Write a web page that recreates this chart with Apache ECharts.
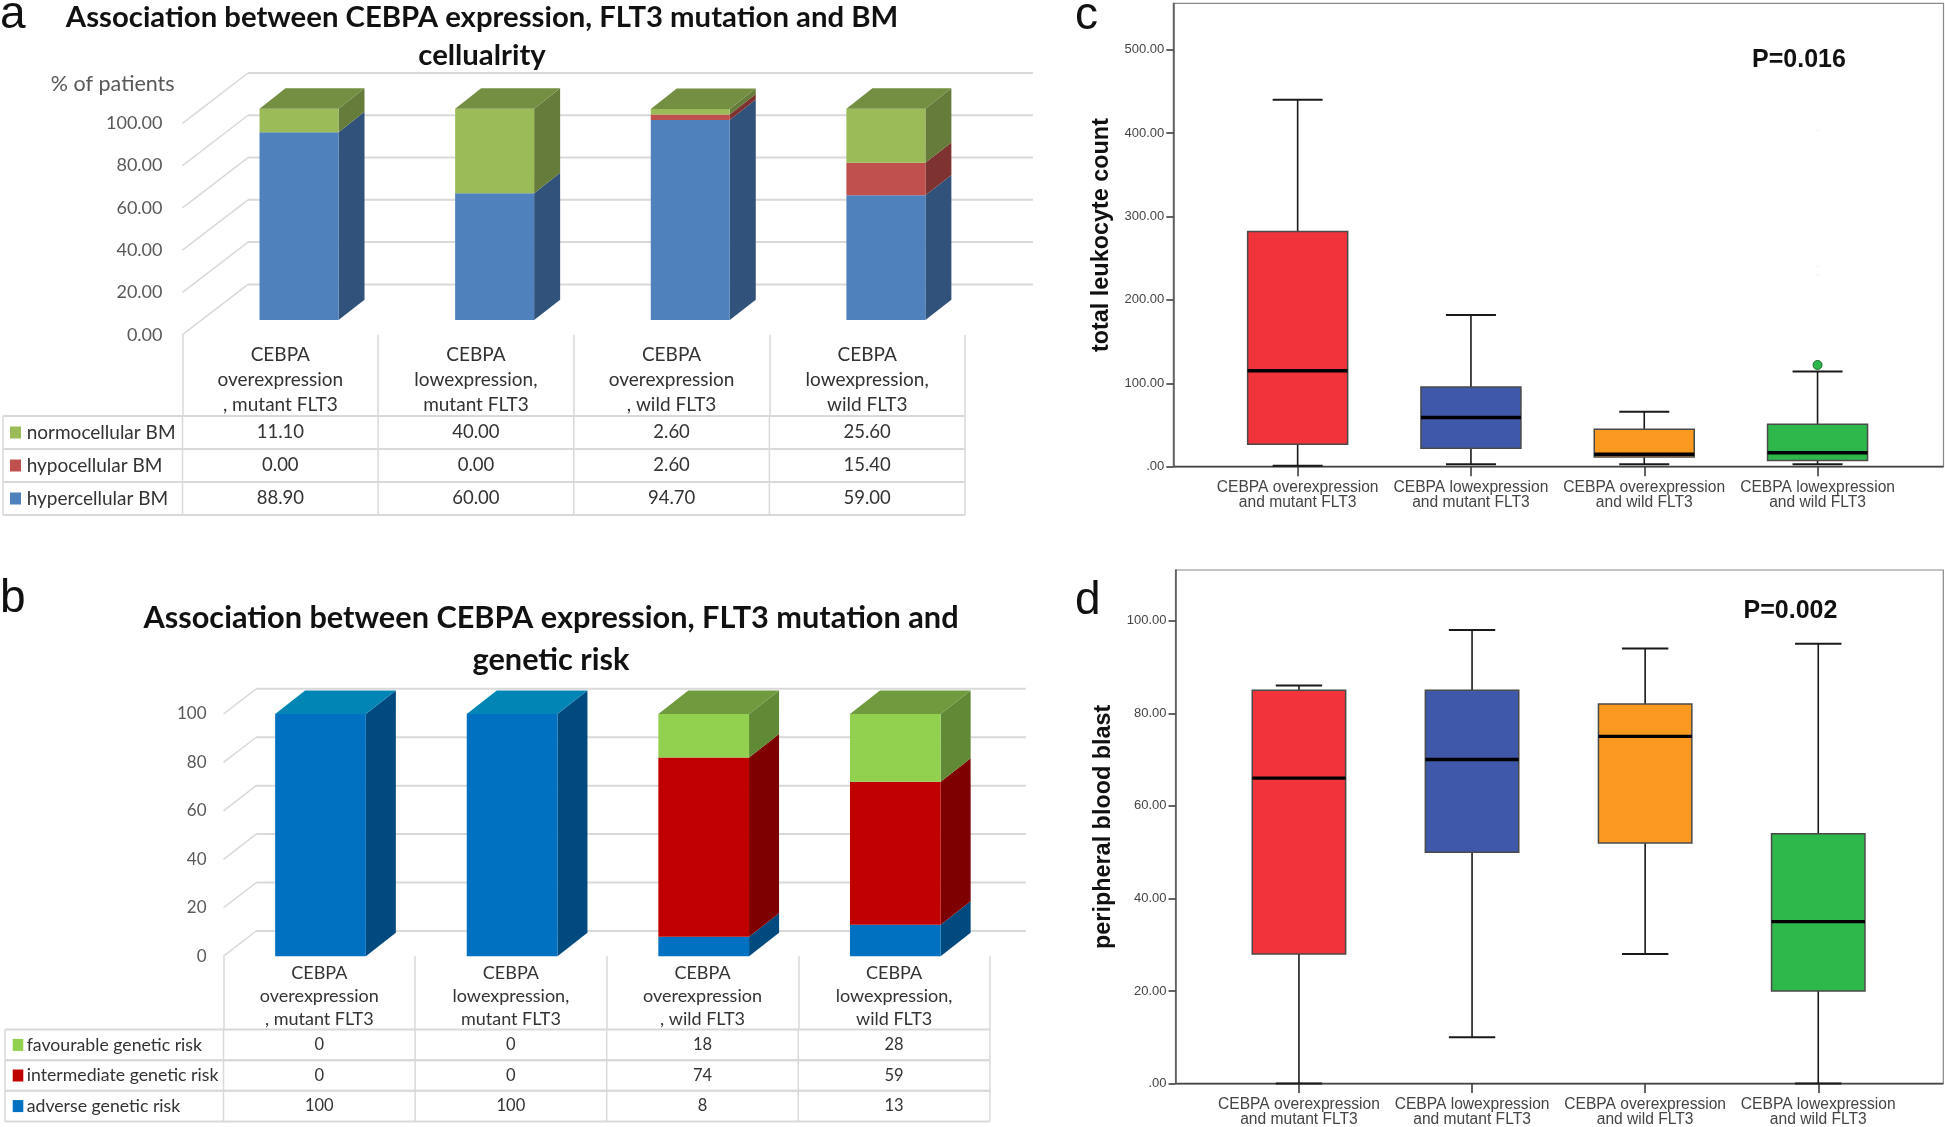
<!DOCTYPE html>
<html><head><meta charset="utf-8">
<style>html,body{margin:0;padding:0;background:#fff}#c{width:1945px;height:1127px}</style>
<script src="https://cdn.jsdelivr.net/npm/echarts@6/dist/echarts.min.js"></script>
</head><body><div id="c"></div>
<script>
// ---------- data ----------
const catsStacked = ['CEBPA\noverexpression\n, mutant FLT3','CEBPA\nlowexpression,\nmutant FLT3','CEBPA\noverexpression\n, wild FLT3','CEBPA\nlowexpression,\nwild FLT3'];
const hypercellularBM = [88.9,60,94.7,59];
const hypocellularBM  = [0,0,2.6,15.4];
const normocellularBM = [11.1,40,2.6,25.6];
const ticksA = [0,20,40,60,80,100];
const adverseRisk = [100,100,8,13];
const intermediateRisk = [0,0,74,59];
const favourableRisk = [0,0,18,28];
const ticksB = [0,20,40,60,80,100];
const catsBox = ['CEBPA overexpression\nand mutant FLT3','CEBPA lowexpression\nand mutant FLT3','CEBPA overexpression\nand wild FLT3','CEBPA lowexpression\nand wild FLT3'];
// [category, min, q1, median, q3, max]
const leukocyteBoxes = [[0,1,27,115,282,440],[1,3,22,59,95.5,182],[2,3,11.5,15,45,66],[3,3,7.5,16.7,51,114]];
const leukocyteOutlier = [[3,122]];
const leukocyteFaint = [[3,403],[3,240],[3,230]];
const blastBoxes = [[0,0,28,66,85,86],[1,10,50,70,85,98],[2,28,52,75,82,94],[3,0,20,35,54,95]];
const ticksC = [0,100,200,300,400,500];
const ticksD = [0,20,40,60,80,100];
const boxColors = ['#F1333B','#3F58AA','#F9991F','#2EB84B'];

const CAL = 'Lato, Carlito, sans-serif';
const ARI = '"Liberation Sans", Arial, sans-serif';
const GRID = '#D9D9D9';

// ---------- helpers ----------
function wallSeries(gi, ticks, d, rightExtra){
  return {type:'custom',xAxisIndex:gi,yAxisIndex:gi,z:1,silent:true,clip:false,data:ticks.map(t=>[0,t]),
    encode:{x:0,y:1},
    renderItem(p,api){
      const band=api.size([1,0])[0];
      const c=api.coord([0,api.value(1)]);
      const x0=c[0]-band/2,y0=c[1];
      const xr=api.coord([3,0])[0]+band/2+rightExtra;
      return {type:'group',children:[
        {type:'line',shape:{x1:x0,y1:y0,x2:x0+d.wx,y2:y0-d.wy},style:{stroke:GRID,lineWidth:1.5}},
        {type:'line',shape:{x1:x0+d.wx,y1:y0-d.wy,x2:xr,y2:y0-d.wy},style:{stroke:GRID,lineWidth:2}}
      ]};
    }};
}
function segSeries(gi, base, vals, col, d, topFlags){
  return {type:'custom',xAxisIndex:gi,yAxisIndex:gi,z:2,silent:true,clip:false,
    data:vals.map((v,i)=>[i,base[i],base[i]+v,v]),encode:{x:0,y:[1,2]},
    renderItem(p,api){
      const i=api.value(0),v=api.value(3);
      if(!v) return {type:'group',children:[]};
      const a=api.coord([i,api.value(1)]),b=api.coord([i,api.value(2)]);
      const cx=a[0]+d.sx, xl=cx-d.w/2, xr=cx+d.w/2;
      const y0=a[1]-d.sy, y1=b[1]-d.sy;
      const kids=[
        {type:'polygon',shape:{points:[[xr,y0],[xr+d.dx,y0-d.dy],[xr+d.dx,y1-d.dy],[xr,y1]]},style:{fill:col.side}},
        {type:'rect',shape:{x:xl,y:y1,width:d.w,height:y0-y1},style:{fill:col.front}}
      ];
      const t=topFlags[i];
      if(t) kids.push({type:'polygon',shape:{points:[[xl,y1],[xl+d.dx,y1-d.dy],[xr+d.dx,y1-d.dy],[xr,y1]]},style:{fill:t}});
      return {type:'group',children:kids};
    }};
}
function tableSeries(gi, rows, t){
  return {type:'custom',xAxisIndex:gi,yAxisIndex:gi,z:3,silent:true,clip:false,
    data:rows.map((r,i)=>[0,i]),encode:{x:0,y:1},
    renderItem(p,api){
      const idx=api.value(1), r=rows[idx];
      const band=api.size([1,0])[0];
      const yTop=t.top+idx*t.rowH, yBot=yTop+t.rowH, kids=[];
      const x0=api.coord([0,0])[0]-band/2, xEnd=x0+band*4;
      kids.push({type:'line',shape:{x1:t.left,y1:yTop,x2:xEnd,y2:yTop},style:{stroke:GRID,lineWidth:2}});
      kids.push({type:'line',shape:{x1:t.left,y1:yBot,x2:xEnd,y2:yBot},style:{stroke:GRID,lineWidth:2}});
      [t.left,x0,x0+band,x0+2*band,x0+3*band,xEnd].forEach(x=>kids.push({type:'line',shape:{x1:x,y1:yTop,x2:x,y2:yBot},style:{stroke:GRID,lineWidth:1.5}}));
      kids.push({type:'rect',shape:{x:t.swX,y:yTop+t.rowH/2-6,width:t.swW,height:12},style:{fill:r.color}});
      kids.push({type:'text',style:{x:t.txtX,y:yTop+t.rowH/2,text:r.name,font:t.nameFont,fill:'#333',verticalAlign:'middle',align:'left'}});
      r.vals.forEach((v,i)=>kids.push({type:'text',style:{x:api.coord([i,0])[0],y:yTop+t.rowH/2,text:r.fmt(v),font:t.valFont,fill:'#333',verticalAlign:'middle',align:'center'}}));
      return {type:'group',children:kids};
    }};
}
function boxSeries(gi, boxes, geo){
  return {type:'custom',xAxisIndex:gi,yAxisIndex:gi,z:3,silent:true,clip:false,data:boxes,encode:{x:0,y:[1,2,3,4,5]},
    renderItem(p,api){
      const i=api.value(0);
      const P=k=>api.coord([i,api.value(k)]);
      const x=P(1)[0], mn=P(1)[1],q1=P(2)[1],md=P(3)[1],q3=P(4)[1],mx=P(5)[1];
      const blk={stroke:'#1a1a1a',lineWidth:1.6};
      return {type:'group',children:[
        {type:'line',shape:{x1:x,y1:mx,x2:x,y2:mn},style:blk},
        {type:'line',shape:{x1:x-geo.cap/2,y1:mx,x2:x+geo.cap/2,y2:mx},style:{stroke:'#1a1a1a',lineWidth:2}},
        {type:'line',shape:{x1:x-geo.cap/2,y1:mn,x2:x+geo.cap/2,y2:mn},style:{stroke:'#1a1a1a',lineWidth:2}},
        {type:'rect',shape:{x:x-geo.w/2,y:q3,width:geo.w,height:q1-q3},style:{fill:boxColors[i],stroke:'#4a4a4a',lineWidth:1.5}},
        {type:'line',shape:{x1:x-geo.w/2,y1:md,x2:x+geo.w/2,y2:md},style:{stroke:'#000',lineWidth:3.4}}
      ]};
    }};
}
const stackOn=(...arrs)=>arrs[0].map((_,i)=>arrs.reduce((s,a)=>s+a[i],0));

// ---------- panel geometry ----------
const dA={wx:65.5,wy:50.3,dx:26,dy:20.4,w:79,sx:18.7,sy:14.6};
const dB={wx:32.7,wy:25.2,dx:30,dy:23.5,w:90.7,sx:1.2,sy:0};
const gA={left:182.5,top:123.3,width:782.5,height:211.4,outerBoundsMode:'none'};
const gB={left:223.5,top:714,width:766.4,height:242.2,outerBoundsMode:'none'};
const gC={left:1211,top:3.4,width:693.2,height:463.3,outerBoundsMode:'none'};
const gD={left:1212.4,top:570,width:692.4,height:513.6,outerBoundsMode:'none'};

const colA={blue:{front:'#4F81BD',side:'#31527B'},red:{front:'#C0504D',side:'#7E3330'},green:{front:'#9BBB59',side:'#667C3A'}};
const colB={blue:{front:'#0070C0',side:'#004A80'},red:{front:'#C00000',side:'#7F0000'},green:{front:'#92D050',side:'#608A35'}};
const zeros=[0,0,0,0], none=[null,null,null,null];
const topA='#748E42', topBg='#6F9A3D', topBb='#0085B5';

const fmt2=v=>v.toFixed(2), fmt0=v=>String(v);
const rowsA=[
 {name:'normocellular BM',color:'#9BBB59',vals:normocellularBM,fmt:fmt2},
 {name:'hypocellular BM',color:'#C0504D',vals:hypocellularBM,fmt:fmt2},
 {name:'hypercellular BM',color:'#4F81BD',vals:hypercellularBM,fmt:fmt2}];
const rowsB=[
 {name:'favourable genetic risk',color:'#92D050',vals:favourableRisk,fmt:fmt0},
 {name:'intermediate genetic risk',color:'#C00000',vals:intermediateRisk,fmt:fmt0},
 {name:'adverse genetic risk',color:'#0070C0',vals:adverseRisk,fmt:fmt0}];

function stackedX(gi,data,fs,lh,margin,len){
  return {type:'category',gridIndex:gi,data,axisLine:{show:false},
    axisTick:{show:true,length:len,alignWithLabel:false,lineStyle:{color:GRID,width:1.5}},
    axisLabel:{interval:0,fontFamily:CAL,fontSize:fs,lineHeight:lh,color:'#333',margin,verticalAlign:'top'}};
}
function stackedY(gi,ticks,fs,margin,f){
  return {type:'value',gridIndex:gi,min:0,max:100,interval:20,axisLine:{show:false},axisTick:{show:false},splitLine:{show:false},
    axisLabel:{fontFamily:CAL,fontSize:fs,color:'#595959',margin,formatter:f,padding:[2,0,0,0]}};
}
function boxX(gi,margin){
  return {type:'category',gridIndex:gi,data:catsBox,axisLine:{show:false},
    axisTick:{show:true,alignWithLabel:true,length:9.5,lineStyle:{color:'#333',width:1.5}},
    axisLabel:{interval:0,fontFamily:ARI,fontSize:15.6,lineHeight:15,color:'#444',margin}};
}
function boxY(gi,max,off,name,ticks,gap,pad){
  return {type:'value',gridIndex:gi,min:0,max,offset:off,name,nameLocation:'middle',nameGap:gap,
    nameTextStyle:{fontFamily:ARI,fontWeight:'bold',fontSize:23.4,color:'#111'},
    axisLine:{show:true,lineStyle:{color:'#555',width:1.5}},
    axisTick:{show:true,length:7,customValues:ticks,lineStyle:{color:'#333',width:1.5}},
    splitLine:{show:false},
    axisLabel:{customValues:ticks,fontFamily:ARI,fontSize:13,color:'#444',margin:9,padding:[pad,0,0,0],formatter:v=>v===0?'.00':v.toFixed(2)}};
}
const letter=(t,x,y)=>({type:'text',z:10,style:{x,y,text:t,font:'46px "Liberation Sans", Arial, sans-serif',fill:'#111',verticalAlign:'middle'}});
const pval=(t,x,y)=>({type:'text',z:10,style:{x,y,text:t,font:'bold 25px "Liberation Sans", Arial, sans-serif',fill:'#111',align:'center',verticalAlign:'middle'}});
const frame=(x,y,w,h)=>({type:'group',z:0,silent:true,children:[
  {type:'rect',shape:{x,y,width:w,height:h},style:{fill:'none',stroke:'#888',lineWidth:1.2}},
  {type:'line',shape:{x1:x,y1:y+h,x2:x+w,y2:y+h},style:{stroke:'#444',lineWidth:1.8}}]});

const option={
  animation:false,backgroundColor:'#fff',
  title:[
    {text:'Association between CEBPA expression, FLT3 mutation and BM\ncellualrity',left:477,top:-7,textAlign:'center',
     textStyle:{fontFamily:CAL,fontWeight:'bold',fontSize:29.3,lineHeight:38.5,color:'#111'}},
    {text:'Association between CEBPA expression, FLT3 mutation and\ngenetic risk',left:546,top:592,textAlign:'center',
     textStyle:{fontFamily:CAL,fontWeight:'bold',fontSize:30.7,lineHeight:41.8,color:'#111'}}
  ],
  grid:[gA,gB,gC,gD],
  xAxis:[stackedX(0,catsStacked,19,24.9,7.5,81.3),stackedX(1,catsStacked,18,23.3,5,73.4),boxX(2,13),boxX(3,14)],
  yAxis:[stackedY(0,ticksA,18,20,v=>v.toFixed(2)),stackedY(1,ticksB,17,17,v=>String(v)),
    boxY(2,555.5,37.7,'total leukocyte count',ticksC,60,3),boxY(3,110.95,36.9,'peripheral blood blast',ticksD,60,4)],
  graphic:[
    letter('a',0,15.5),letter('b',0,599),letter('c',1075,16),letter('d',1075,601),
    {type:'text',z:10,style:{x:112.7,y:83.6,text:'% of patients',font:'21.5px '+CAL,fill:'#595959',align:'center',verticalAlign:'middle'}},
    frame(1173.3,3.4,770.2,463.3),frame(1175.5,570,767.8,513.6),
    pval('P=0.016',1799,60.5),pval('P=0.002',1790.5,611)
  ],
  series:[
    wallSeries(0,ticksA,dA,68),
    segSeries(0,zeros,hypercellularBM,colA.blue,dA,none),
    segSeries(0,hypercellularBM,hypocellularBM,colA.red,dA,none),
    segSeries(0,stackOn(hypercellularBM,hypocellularBM),normocellularBM,colA.green,dA,[topA,topA,topA,topA]),
    tableSeries(0,rowsA,{top:416,rowH:33,left:3,swX:10,swW:11,txtX:26.7,nameFont:'19px '+CAL,valFont:'18.5px '+CAL}),
    wallSeries(1,ticksB,dB,36),
    segSeries(1,zeros,adverseRisk,colB.blue,dB,[topBb,topBb,null,null]),
    segSeries(1,adverseRisk,intermediateRisk,colB.red,dB,none),
    segSeries(1,stackOn(adverseRisk,intermediateRisk),favourableRisk,colB.green,dB,[null,null,topBg,topBg]),
    tableSeries(1,rowsB,{top:1029.6,rowH:30.6,left:5,swX:12.7,swW:10.6,txtX:26.7,nameFont:'17.7px '+CAL,valFont:'16.5px '+CAL}),
    boxSeries(2,leukocyteBoxes,{w:100,cap:50}),
    {type:'scatter',xAxisIndex:2,yAxisIndex:2,z:4,data:leukocyteOutlier,symbolSize:9,itemStyle:{color:'#2EB84B',opacity:1,borderColor:'#1d6b30',borderWidth:1}},
    {type:'scatter',xAxisIndex:2,yAxisIndex:2,z:4,data:leukocyteFaint,symbolSize:1.5,itemStyle:{color:'#cfeeda',opacity:1}},
    boxSeries(3,blastBoxes,{w:93.4,cap:46.4})
  ]
};
const chart=echarts.init(document.getElementById('c'),null,{renderer:'canvas',width:1945,height:1127});
chart.setOption(option);
</script></body></html>
